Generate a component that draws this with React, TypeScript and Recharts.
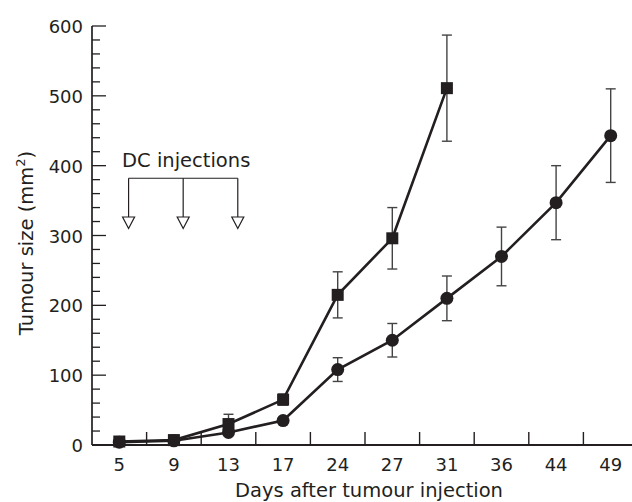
import React from 'react';
import { LineChart, Line, XAxis, YAxis, ErrorBar, ReferenceLine, ReferenceDot } from 'recharts';

const days = ['5', '9', '13', '17', '24', '27', '31', '36', '44', '49'];
const controlMean = [5, 7, 30, 65, 215, 296, 511];
const controlErr = [3, 7, 14, 8, 33, 44, 76];
const dcMean = [4, 6, 18, 35, 108, 150, 210, 270, 347, 443];
const dcErr = [2, 3, 4, 4, 17, 24, 32, 42, 53, 67];
const yTicks = [0, 20, 40, 60, 80, 100, 120, 140, 160, 180, 200, 220, 240, 260, 280, 300, 320, 340, 360, 380, 400, 420, 440, 460, 480, 500, 520, 540, 560, 580, 600];
const xTicks = [0, 0.5, 1, 1.5, 2, 2.5, 3, 3.5, 4, 4.5, 5, 5.5, 6, 6.5, 7, 7.5, 8, 8.5, 9];
// DC injection annotation (position along the category index axis)
const injectionPos = [0.17, 1.17, 2.17];
const bracketY = 382;
const arrowY = 326.5;
const labelY = 398;

const INK = '#231f20';
const FONT = 'DejaVu Sans';

const data = days.map((d, i) => ({
  idx: i,
  day: d,
  ctrl: i < controlMean.length ? controlMean[i] : null,
  ctrlErr: i < controlErr.length ? controlErr[i] : null,
  dc: dcMean[i],
  dcErr: dcErr[i],
}));

const XTick = (props: any) => {
  const { x, y, payload } = props;
  const v = payload.value;
  if (Number.isInteger(v)) {
    return (
      <text x={x} y={y + 26} textAnchor="middle" fontSize={18} fontFamily={FONT} fill={INK}>
        {days[v]}
      </text>
    );
  }
  return <line x1={x} x2={x} y1={y} y2={y - 13} stroke={INK} strokeWidth={1.4} />;
};

const YTick = (props: any) => {
  const { x, y, payload } = props;
  const v = payload.value;
  const major = v % 100 === 0;
  return (
    <g>
      <line x1={x} x2={x + (major ? 14 : 8)} y1={y} y2={y} stroke={INK} strokeWidth={1.3} />
      {major && (
        <text x={x - 9} y={y + 7} textAnchor="end" fontSize={18} fontFamily={FONT} fill={INK}>
          {v}
        </text>
      )}
    </g>
  );
};

const SquareDot = (props: any) => {
  const { cx, cy, index } = props;
  if (cx == null || cy == null) return <g key={`sq-${index}`} />;
  return <rect key={`sq-${index}`} x={cx - 6} y={cy - 6} width={12} height={12} fill={INK} />;
};

const CircleDot = (props: any) => {
  const { cx, cy, index } = props;
  if (cx == null || cy == null) return <g key={`ci-${index}`} />;
  return <circle key={`ci-${index}`} cx={cx} cy={cy} r={6.5} fill={INK} />;
};

const Triangle = (props: any) => {
  const { cx, cy } = props;
  return (
    <path
      d={`M${cx - 6},${cy} L${cx + 6},${cy} L${cx},${cy + 11.5} Z`}
      fill="#fff"
      stroke={INK}
      strokeWidth={1.2}
    />
  );
};

const InjText = (props: any) => {
  const { cx, cy } = props;
  return (
    <text x={cx + 3} y={cy} textAnchor="middle" fontSize={19.5} fontFamily={FONT} fill={INK}>
      DC injections
    </text>
  );
};

const YLabel = () => (
  <text
    transform="translate(33,243) rotate(-90)"
    textAnchor="middle"
    fontSize={19.5}
    fontFamily={FONT}
    fill={INK}
  >
    Tumour size (mm
    <tspan fontSize={13} dy={-8}>2</tspan>
    <tspan dy={8}>)</tspan>
  </text>
);

const XLabel = () => (
  <text x={369} y={497} textAnchor="middle" fontSize={19.5} fontFamily={FONT} fill={INK}>
    Days after tumour injection
  </text>
);

export default function App() {
  return (
    <div style={{ position: 'absolute', left: 0, top: 0, width: 632, height: 502, overflow: 'hidden', background: '#fff' }}>
      <LineChart width={640} height={502} data={data} margin={{ top: 26, right: 2, left: 0, bottom: 0 }}>
        <XAxis
          dataKey="idx"
          type="number"
          domain={[-0.5, 9.5]}
          ticks={xTicks}
          interval={0}
          tick={<XTick />}
          tickLine={false}
          tickSize={0}
          tickMargin={0}
          axisLine={{ stroke: INK, strokeWidth: 2 }}
          height={57}
          label={<XLabel />}
        />
        <YAxis
          type="number"
          domain={[0, 600]}
          ticks={yTicks}
          interval={0}
          tick={<YTick />}
          tickLine={false}
          tickSize={0}
          tickMargin={0}
          axisLine={{ stroke: INK, strokeWidth: 1.7 }}
          width={92}
          label={<YLabel />}
        />
        <ReferenceLine
          segment={[{ x: injectionPos[0], y: bracketY }, { x: injectionPos[2], y: bracketY }]}
          stroke={INK}
          strokeWidth={1.2}
        />
        {injectionPos.map((p, i) => (
          <ReferenceLine
            key={`v-${i}`}
            segment={[{ x: p, y: bracketY }, { x: p, y: arrowY }]}
            stroke={INK}
            strokeWidth={1.2}
          />
        ))}
        {injectionPos.map((p, i) => (
          <ReferenceDot key={`t-${i}`} x={p} y={arrowY} r={6} shape={<Triangle />} />
        ))}
        <ReferenceDot x={injectionPos[1]} y={labelY} r={1} shape={<InjText />} />
        <Line
          dataKey="dc"
          stroke={INK}
          strokeWidth={2.6}
          dot={CircleDot}
          activeDot={false}
          isAnimationActive={false}
        >
          <ErrorBar dataKey="dcErr" direction="y" width={5} stroke="#444" strokeWidth={1.4} />
        </Line>
        <Line
          dataKey="ctrl"
          stroke={INK}
          strokeWidth={2.6}
          dot={SquareDot}
          activeDot={false}
          connectNulls={false}
          isAnimationActive={false}
        >
          <ErrorBar dataKey="ctrlErr" direction="y" width={5} stroke="#444" strokeWidth={1.4} />
        </Line>
      </LineChart>
    </div>
  );
}
